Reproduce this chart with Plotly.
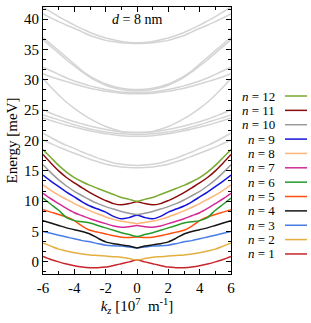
import plotly.graph_objects as go

# wave vector (10^7 m^-1), right half; bands are symmetric in k
k_half = [0, 0.5, 1, 1.5, 2, 2.5, 3, 3.5, 4, 4.5, 5, 5.5, 6]

band_n1 = [0.3, 0.0, -0.3, -0.6, -0.85, -0.95, -0.95, -0.85, -0.65, -0.35, 0.0, 0.4, 0.9]
band_n2 = [0.3, 0.55, 0.75, 0.85, 0.95, 1.05, 1.15, 1.3, 1.5, 1.8, 2.1, 2.6, 3.1]
band_n3 = [2.3, 2.45, 2.6, 2.65, 2.75, 3.0, 3.3, 3.5, 3.8, 4.1, 4.4, 4.7, 5.0]
band_n4 = [2.3, 2.6, 2.8, 3.0, 3.3, 3.9, 4.6, 5.0, 5.3, 5.6, 6.0, 6.4, 6.8]
band_n5 = [4.1, 4.0, 4.05, 4.3, 4.6, 4.9, 5.2, 5.9, 6.8, 7.4, 7.8, 8.2, 8.6]
band_n6 = [4.2, 4.5, 4.8, 5.2, 5.6, 6.0, 6.4, 6.6, 6.8, 7.3, 8.5, 9.5, 10.5]
band_n7 = [6.0, 5.8, 5.7, 5.9, 6.3, 6.7, 7.1, 7.6, 8.1, 8.8, 9.6, 10.4, 11.3]
band_n8 = [6.3, 6.5, 6.7, 7.0, 7.4, 7.9, 8.4, 9.0, 9.6, 10.3, 11.0, 11.8, 12.7]
band_n9 = [7.7, 7.3, 7.1, 7.5, 8.2, 8.7, 9.2, 9.9, 10.7, 11.5, 12.4, 13.3, 14.3]
band_n10 = [7.8, 8.0, 8.3, 8.7, 9.1, 9.6, 10.2, 10.9, 11.6, 12.5, 13.5, 14.7, 16.0]
band_n11 = [9.9, 9.6, 9.4, 9.6, 10.1, 10.7, 11.4, 12.2, 13.0, 13.9, 15.0, 16.3, 17.7]
band_n12 = [10.0, 10.3, 10.6, 11.1, 11.6, 12.1, 12.6, 13.2, 13.9, 14.8, 15.9, 17.2, 18.5]

# higher subbands (grey)
grey_1 = [15.5, 15.55, 15.65, 15.85, 16.1, 16.5, 16.9, 17.4, 17.9, 18.4, 18.9, 19.5, 20.1]
grey_2 = [15.9, 15.95, 16.1, 16.3, 16.7, 17.1, 17.6, 18.1, 18.7, 19.2, 19.8, 20.5, 21.2]
grey_3 = [20.7, 20.72, 20.8, 20.95, 21.1, 21.35, 21.6, 21.9, 22.2, 22.5, 22.9, 23.3, 23.7]
grey_4 = [21.0, 21.02, 21.1, 21.25, 21.4, 21.65, 21.9, 22.25, 22.6, 23.0, 23.4, 23.8, 24.2]
grey_5 = [21.3, 21.33, 21.4, 21.6, 21.8, 22.1, 22.4, 22.75, 23.1, 23.5, 24.0, 24.5, 25.1]
grey_6 = [21.3, 21.35, 21.5, 21.85, 22.3, 22.9, 23.6, 24.4, 25.3, 26.3, 27.5, 28.8, 30.2]
grey_7 = [27.7, 27.72, 27.8, 27.95, 28.1, 28.35, 28.6, 28.95, 29.3, 29.7, 30.1, 30.5, 31.0]
grey_8 = [27.9, 27.93, 28.0, 28.2, 28.4, 28.7, 29.0, 29.4, 29.8, 30.3, 30.9, 31.5, 32.1]
grey_9 = [28.2, 28.25, 28.4, 28.7, 29.1, 29.7, 30.4, 31.3, 32.3, 33.3, 34.4, 35.5, 36.6]
grey_10 = [28.4, 28.45, 28.6, 28.9, 29.3, 29.9, 30.6, 31.5, 32.6, 33.7, 34.8, 35.9, 37.0]
grey_11 = [36.0, 36.03, 36.1, 36.3, 36.5, 36.9, 37.3, 37.9, 38.5, 39.0, 39.6, 40.2, 40.9]
grey_12 = [36.1, 36.15, 36.3, 36.6, 36.9, 37.3, 37.8, 38.4, 39.0, 39.7, 40.4, 41.2, 42.0]

x_tick_vals = [-6, -4, -2, 0, 2, 4, 6]
x_tick_text = ["-6", "-4", "-2", "0", "2", "4", "6"]
y_tick_vals = [0, 5, 10, 15, 20, 25, 30, 35, 40]
y_tick_text = ["0", "5", "10", "15", "20", "25", "30", "35", "40"]

bands = [band_n1, band_n2, band_n3, band_n4, band_n5, band_n6,
         band_n7, band_n8, band_n9, band_n10, band_n11, band_n12]
greys = [grey_1, grey_2, grey_3, grey_4, grey_5, grey_6,
         grey_7, grey_8, grey_9, grey_10, grey_11, grey_12]
colors = ["#c8262b", "#e3b040", "#4a7de6", "#151515", "#ff5010", "#279a2a",
          "#d42a98", "#ffb478", "#1414dc", "#9a9a9a", "#8a0c0c", "#7aaa32"]
grey_color = "#d4d4d4"
SERIF = "Liberation Serif"


def full(vals):
    k = [-x for x in k_half[::-1]] + k_half[1:]
    v = vals[::-1] + vals[1:]
    return k, v


fig = go.Figure()
for g in greys:
    kk, vv = full(g)
    fig.add_trace(go.Scatter(x=kk, y=vv, mode="lines",
                             line=dict(color=grey_color, width=1.5, shape="spline", smoothing=0.8),
                             showlegend=False, hoverinfo="skip"))
for vals, c in zip(bands, colors):
    kk, vv = full(vals)
    fig.add_trace(go.Scatter(x=kk, y=vv, mode="lines",
                             line=dict(color=c, width=1.5, shape="spline", smoothing=0.8),
                             showlegend=False, hoverinfo="skip"))

# manual legend (text left of the line sample)
L, R, T, B = 43, 80, 7, 49
W, H = 311, 323
pw, ph = W - L - R, H - T - B


def px(x):
    return (x - L) / pw


def py(y):
    return (H - B - y) / ph


row0, step = 96, 14.36
for i in range(12):
    idx = 11 - i
    yy = row0 + i * step
    fig.add_annotation(x=px(277), y=py(yy), xref="paper", yref="paper", xanchor="right", yanchor="middle",
                       text="<i>n</i> = %d" % (idx + 1), showarrow=False,
                       font=dict(family=SERIF, size=13, color="black"))
    fig.add_shape(type="line", xref="paper", yref="paper", x0=px(285), x1=px(307), y0=py(yy), y1=py(yy),
                  line=dict(color=colors[idx], width=1.5))

fig.add_annotation(x=0, y=39.9, xref="x", yref="y", text="<i>d</i> = 8 nm", showarrow=False,
                   xanchor="center", yanchor="middle", font=dict(family=SERIF, size=14, color="black"))

axis_common = dict(showline=True, linecolor="black", linewidth=1, mirror="allticks", ticks="inside",
                   ticklen=5, tickwidth=1, tickcolor="black", showgrid=False, zeroline=False,
                   tickfont=dict(family=SERIF, size=15, color="black"))
fig.update_xaxes(range=[-6, 6], tickmode="array", tickvals=x_tick_vals, ticktext=x_tick_text,
                 minor=dict(dtick=1, tick0=-6, ticks="inside", ticklen=3, tickcolor="black", showgrid=False),
                 title=dict(text="<i>k<sub>z</sub></i> [10<sup>7</sup>  m<sup>-1</sup>]",
                            font=dict(family=SERIF, size=15, color="black"), standoff=2),
                 **axis_common)
fig.update_yaxes(range=[-2, 42], tickmode="array", tickvals=y_tick_vals, ticktext=y_tick_text,
                 minor=dict(dtick=5 / 3, tick0=0, ticks="inside", ticklen=3, tickcolor="black", showgrid=False),
                 title=dict(text="Energy [meV]", font=dict(family=SERIF, size=15, color="black"), standoff=2),
                 **axis_common)
fig.update_layout(width=W, height=H, margin=dict(l=L, r=R, t=T, b=B), plot_bgcolor="white",
                  paper_bgcolor="white", showlegend=False, hovermode=False)

post_js = """
document.body.style.margin = '0';
document.body.style.padding = '0';
function forceSerif() {
  document.querySelectorAll('svg text, svg tspan').forEach(function (t) {
    t.style.setProperty('font-family', "'Liberation Serif'", 'important');
  });
}
forceSerif();
setTimeout(forceSerif, 50);
"""
fig.write_html("out.html", post_script=post_js,
               config={"responsive": False, "displayModeBar": False, "staticPlot": True})
